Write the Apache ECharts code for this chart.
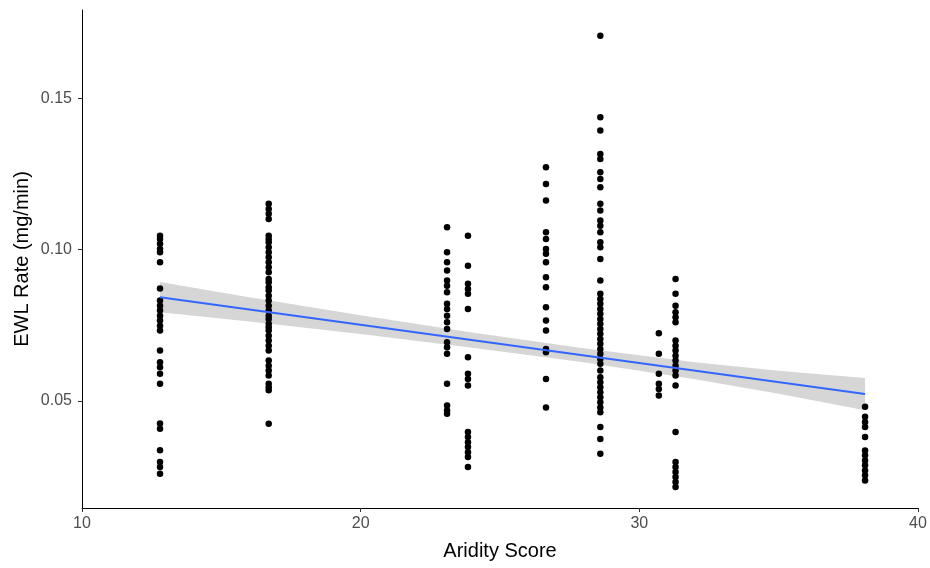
<!DOCTYPE html>
<html><head><meta charset="utf-8">
<script src="https://cdn.jsdelivr.net/npm/echarts@6/dist/echarts.min.js"></script>
<style>html,body{margin:0;padding:0;background:#fff}#c{width:930px;height:568px}</style>
</head><body><div id="c"></div>
<script>
// Aridity score of each site (x) and EWL rates observed there (y)
const siteX = [12.8, 16.7, 23.1, 23.85, 26.65, 28.6, 30.7, 31.3, 38.1];
const ewl_12_8 = [0.1046,0.1035,0.1019,0.1002,0.0991,0.0958,0.0872,0.0832,0.0815,0.0799,0.0782,0.0766,0.0749,0.0733,0.0667,0.0628,0.0612,0.0590,0.0557,0.0426,0.0409,0.0338,0.0299,0.0282,0.0260];
const ewl_16_7 = [0.1151,0.1134,0.1118,0.1101,0.1046,0.1035,0.1024,0.1008,0.0991,0.0975,0.0958,0.0942,0.0925,0.0903,0.0892,0.0876,0.0865,0.0848,0.0832,0.0815,0.0799,0.0782,0.0771,0.0755,0.0744,0.0733,0.0716,0.0700,0.0683,0.0667,0.0634,0.0617,0.0601,0.0584,0.0557,0.0546,0.0536,0.0425];
const ewl_23_1 = [0.1074,0.0991,0.0958,0.0931,0.0898,0.0881,0.0859,0.0821,0.0804,0.0782,0.0760,0.0738,0.0694,0.0678,0.0656,0.0557,0.0485,0.0469,0.0458];
const ewl_23_85 = [0.1046,0.0947,0.0887,0.0870,0.0854,0.0804,0.0645,0.0590,0.0573,0.0551,0.0398,0.0381,0.0364,0.0348,0.0331,0.0315,0.0282];
const ewl_26_65 = [0.1272,0.1217,0.1162,0.1057,0.1035,0.1002,0.0986,0.0958,0.0909,0.0876,0.0810,0.0766,0.0733,0.0672,0.0661,0.0573,0.0479];
const ewl_28_6 = [0.1706,0.1437,0.1393,0.1316,0.1299,0.1255,0.1233,0.1206,0.1151,0.1129,0.1096,0.1079,0.1057,0.1024,0.1008,0.0969,0.0898,0.0854,0.0837,0.0821,0.0804,0.0788,0.0771,0.0755,0.0738,0.0722,0.0705,0.0689,0.0672,0.0656,0.0639,0.0623,0.0601,0.0579,0.0562,0.0546,0.0529,0.0513,0.0496,0.0479,0.0463,0.0414,0.0375,0.0326];
const ewl_30_7 = [0.0724,0.0656,0.0590,0.0557,0.0540,0.0518];
const ewl_31_3 = [0.0903,0.0854,0.0815,0.0793,0.0777,0.0760,0.0700,0.0683,0.0667,0.0650,0.0634,0.0617,0.0601,0.0584,0.0551,0.0398,0.0299,0.0282,0.0266,0.0249,0.0233,0.0216];
const ewl_38_1 = [0.0481,0.0448,0.0431,0.0414,0.0381,0.0337,0.0321,0.0304,0.0288,0.0271,0.0255,0.0238];
const siteValues = [ewl_12_8, ewl_16_7, ewl_23_1, ewl_23_85, ewl_26_65, ewl_28_6, ewl_30_7, ewl_31_3, ewl_38_1];

// Fitted linear trend and its confidence band
const fitX = [12.8, 38.1];
const fitY = [0.0843, 0.0523];
const bandX = [12.8, 16, 20, 24, 28, 32, 35, 38.1];
const bandLower = [0.0793, 0.0763, 0.0721, 0.0676, 0.0628, 0.0572, 0.0524, 0.0470];
const bandUpper = [0.0893, 0.0843, 0.0783, 0.0726, 0.0674, 0.0628, 0.0600, 0.0576];

const xTicks = [10, 20, 30, 40];
const yTicks = [0.05, 0.10, 0.15];

const points = [];
siteX.forEach((x, i) => siteValues[i].forEach(v => points.push([x, v])));

const chart = echarts.init(document.getElementById('c'), null, {renderer: 'canvas'});
const axisTextColor = '#4d4d4d';
chart.setOption({
  animation: false,
  backgroundColor: '#ffffff',
  grid: {left: 82, right: 12, top: 10, bottom: 60, containLabel: false},
  xAxis: {
    type: 'value', min: 10, max: 40, interval: 10,
    name: 'Aridity Score', nameLocation: 'middle', nameGap: 33, nameMoveOverlap: false,
    nameTextStyle: {fontFamily: 'Liberation Sans', fontSize: 20, color: '#000'},
    axisLine: {show: true, onZero: false, lineStyle: {color: '#000', width: 1}},
    axisTick: {show: true, length: 4, lineStyle: {color: '#333'}},
    axisLabel: {fontFamily: 'Liberation Sans', fontSize: 16, color: axisTextColor, margin: 8},
    splitLine: {show: false}
  },
  yAxis: {
    type: 'value', min: 0.0147, max: 0.1791,
    name: 'EWL Rate (mg/min)', nameLocation: 'middle', nameGap: 50, nameMoveOverlap: false,
    nameTextStyle: {fontFamily: 'Liberation Sans', fontSize: 20, color: '#000'},
    axisLine: {show: true, onZero: false, lineStyle: {color: '#000', width: 1}},
    axisTick: {show: true, length: 4, lineStyle: {color: '#333'}, customValues: yTicks},
    axisLabel: {fontFamily: 'Liberation Sans', fontSize: 16, color: axisTextColor, margin: 10,
      customValues: yTicks, formatter: v => v.toFixed(2)},
    splitLine: {show: false}
  },
  series: [
    {type: 'custom', silent: true, z: 1, data: [0],
      renderItem: function (params, api) {
        const pts = [];
        for (let i = 0; i < bandX.length; i++) pts.push(api.coord([bandX[i], bandUpper[i]]));
        for (let i = bandX.length - 1; i >= 0; i--) pts.push(api.coord([bandX[i], bandLower[i]]));
        return {type: 'polygon', shape: {points: pts}, style: {fill: '#d6d6d6', stroke: null}};
      }},
    {type: 'scatter', data: points, symbol: 'circle', symbolSize: 6.5,
      itemStyle: {color: '#000', opacity: 1}, z: 3},
    {type: 'line', data: fitX.map((x, i) => [x, fitY[i]]), symbol: 'none',
      lineStyle: {color: '#3366FF', width: 2}, z: 4}
  ]
});
</script></body></html>
